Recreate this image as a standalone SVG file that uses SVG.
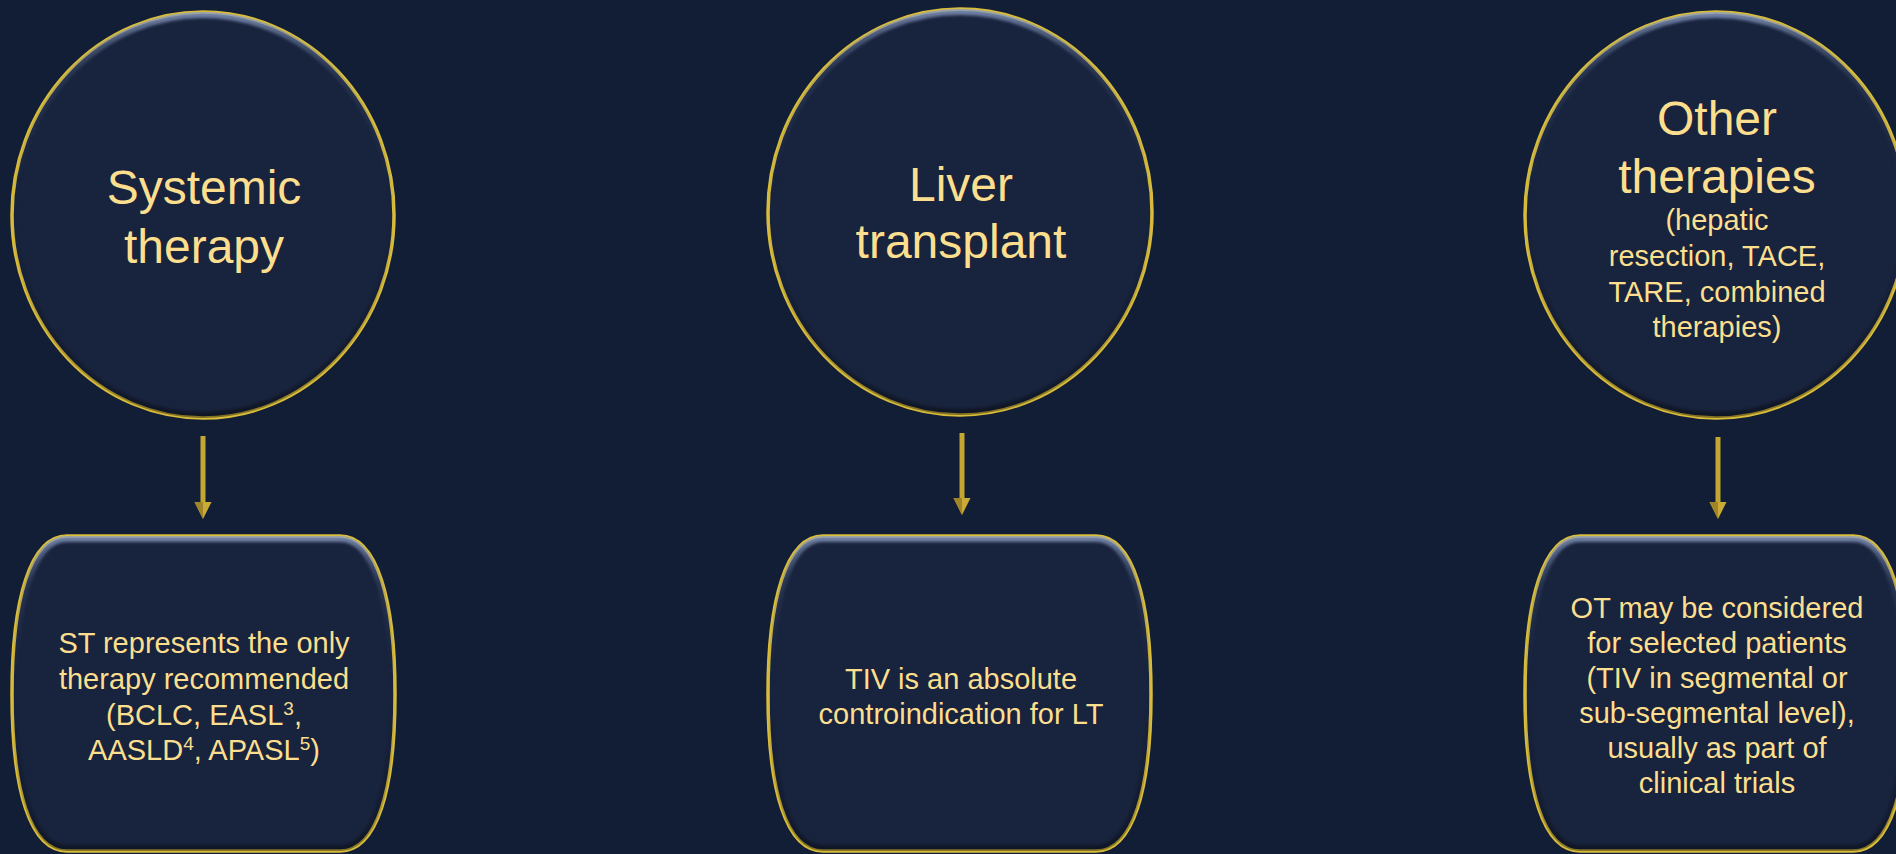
<svg xmlns="http://www.w3.org/2000/svg" width="1896" height="854" viewBox="0 0 1896 854">
  <defs>
    <style>
      .shape { fill: #18233d; stroke: #d8bc3c; stroke-width: 3.5; }
      .bevel { fill: none; stroke: url(#bevelGrad); stroke-width: 12; filter: url(#soft); }
      .big { font-family: "Liberation Sans", Arial, sans-serif; font-size: 48px; fill: #fbdf8f; text-anchor: middle; }
      .small { font-family: "Liberation Sans", Arial, sans-serif; font-size: 29px; fill: #fbdf8f; text-anchor: middle; }
      .conn { stroke: #c4a733; stroke-width: 5; fill: none; }
    </style>
    <linearGradient id="bevelGrad" x1="0" y1="0" x2="0" y2="1">
      <stop offset="0" stop-color="#8c9ec4" stop-opacity="0.8"/>
      <stop offset="0.15" stop-color="#5a6c94" stop-opacity="0.25"/>
      <stop offset="0.5" stop-color="#18233d" stop-opacity="0"/>
      <stop offset="0.9" stop-color="#000000" stop-opacity="0.25"/>
      <stop offset="1" stop-color="#000000" stop-opacity="0.4"/>
    </linearGradient>
    <filter id="soft" x="-5%" y="-5%" width="110%" height="110%">
      <feGaussianBlur stdDeviation="1.6"/>
    </filter>
    <marker id="head" markerUnits="userSpaceOnUse" markerWidth="18" markerHeight="18" viewBox="0 -9 18 18" refX="0" refY="0" orient="auto">
      <path d="M0,-8.5 L17,0 L0,8.5 Z" fill="#c9ab36"/>
      <path d="M0,0 L17,0 L0,8.5 Z" fill="#a08528"/>
    </marker>
    <clipPath id="c1"><ellipse cx="203" cy="215" rx="191" ry="203"/></clipPath>
    <clipPath id="c2"><ellipse cx="960" cy="212" rx="192" ry="203"/></clipPath>
    <clipPath id="c3"><ellipse cx="1716" cy="215" rx="191" ry="203"/></clipPath>
    <clipPath id="b1c"><path d="M67,536 H340 C377,536 395,600 395,694 C395,790 377,851 340,851 H67 C30,851 12,790 12,694 C12,600 30,536 67,536 Z"/></clipPath>
    <clipPath id="b2c"><path d="M823,536 H1096 C1133,536 1151,600 1151,694 C1151,790 1133,851 1096,851 H823 C786,851 768,790 768,694 C768,600 786,536 823,536 Z"/></clipPath>
    <clipPath id="b3c"><path d="M1580,536 H1853 C1890,536 1908,600 1908,694 C1908,790 1890,851 1853,851 H1580 C1543,851 1525,790 1525,694 C1525,600 1543,536 1580,536 Z"/></clipPath>
  </defs>

  <rect x="0" y="0" width="1896" height="854" fill="#121e35"/>

  <g id="connectors">
    <line class="conn" x1="203" y1="436" x2="203" y2="502" marker-end="url(#head)"/>
    <line class="conn" x1="962" y1="433" x2="962" y2="498" marker-end="url(#head)"/>
    <line class="conn" x1="1718" y1="437" x2="1718" y2="502" marker-end="url(#head)"/>
  </g>

  <g id="systemic-therapy">
    <ellipse class="shape" cx="203" cy="215" rx="191" ry="203"/>
    <g clip-path="url(#c1)"><ellipse class="bevel" cx="203" cy="215" rx="191" ry="203"/></g>
    <text class="big" x="204" y="204">Systemic</text>
    <text class="big" x="204" y="263">therapy</text>
  </g>

  <g id="liver-transplant">
    <ellipse class="shape" cx="960" cy="212" rx="192" ry="203"/>
    <g clip-path="url(#c2)"><ellipse class="bevel" cx="960" cy="212" rx="192" ry="203"/></g>
    <text class="big" x="961" y="201">Liver</text>
    <text class="big" x="961" y="258">transplant</text>
  </g>

  <g id="other-therapies">
    <ellipse class="shape" cx="1716" cy="215" rx="191" ry="203"/>
    <g clip-path="url(#c3)"><ellipse class="bevel" cx="1716" cy="215" rx="191" ry="203"/></g>
    <text class="big" x="1717" y="135">Other</text>
    <text class="big" x="1717" y="193">therapies</text>
    <text class="small" x="1717" y="230">(hepatic</text>
    <text class="small" x="1717" y="266">resection, TACE,</text>
    <text class="small" x="1717" y="302">TARE, combined</text>
    <text class="small" x="1717" y="337">therapies)</text>
  </g>

  <g id="st-box">
    <path class="shape" d="M67,536 H340 C377,536 395,600 395,694 C395,790 377,851 340,851 H67 C30,851 12,790 12,694 C12,600 30,536 67,536 Z"/>
    <g clip-path="url(#b1c)"><path class="bevel" d="M67,536 H340 C377,536 395,600 395,694 C395,790 377,851 340,851 H67 C30,851 12,790 12,694 C12,600 30,536 67,536 Z"/></g>
    <text class="small" x="204" y="653">ST represents the only</text>
    <text class="small" x="204" y="689">therapy recommended</text>
    <text class="small" x="204" y="725">(BCLC, EASL<tspan font-size="19" dy="-10">3</tspan><tspan dy="10">,</tspan></text>
    <text class="small" x="204" y="760">AASLD<tspan font-size="19" dy="-10">4</tspan><tspan dy="10">, APASL</tspan><tspan font-size="19" dy="-10">5</tspan><tspan dy="10">)</tspan></text>
  </g>

  <g id="lt-box">
    <path class="shape" d="M823,536 H1096 C1133,536 1151,600 1151,694 C1151,790 1133,851 1096,851 H823 C786,851 768,790 768,694 C768,600 786,536 823,536 Z"/>
    <g clip-path="url(#b2c)"><path class="bevel" d="M823,536 H1096 C1133,536 1151,600 1151,694 C1151,790 1133,851 1096,851 H823 C786,851 768,790 768,694 C768,600 786,536 823,536 Z"/></g>
    <text class="small" x="961" y="689">TIV is an absolute</text>
    <text class="small" x="961" y="724">controindication for LT</text>
  </g>

  <g id="ot-box">
    <path class="shape" d="M1580,536 H1853 C1890,536 1908,600 1908,694 C1908,790 1890,851 1853,851 H1580 C1543,851 1525,790 1525,694 C1525,600 1543,536 1580,536 Z"/>
    <g clip-path="url(#b3c)"><path class="bevel" d="M1580,536 H1853 C1890,536 1908,600 1908,694 C1908,790 1890,851 1853,851 H1580 C1543,851 1525,790 1525,694 C1525,600 1543,536 1580,536 Z"/></g>
    <text class="small" x="1717" y="618">OT may be considered</text>
    <text class="small" x="1717" y="653">for selected patients</text>
    <text class="small" x="1717" y="688">(TIV in segmental or</text>
    <text class="small" x="1717" y="723">sub-segmental level),</text>
    <text class="small" x="1717" y="758">usually as part of</text>
    <text class="small" x="1717" y="793">clinical trials</text>
  </g>
</svg>
